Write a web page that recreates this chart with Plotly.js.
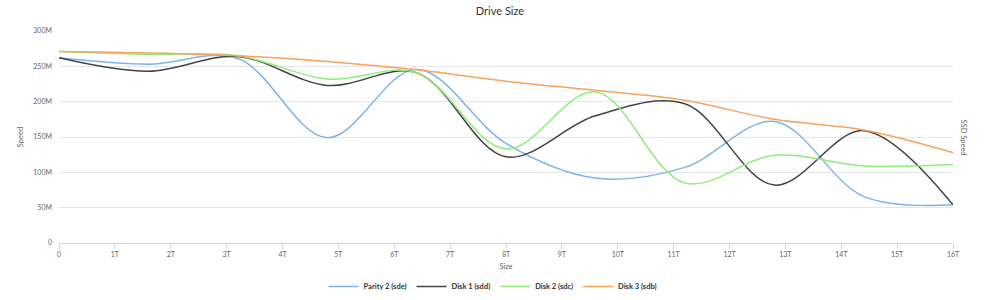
<!DOCTYPE html>
<html>
<head>
<meta charset="utf-8">
<script src="https://cdn.plot.ly/plotly-3.0.1.min.js"></script>
<style>html,body{margin:0;padding:0;background:#fff;}#chart{width:1000px;height:300px;}</style>
</head>
<body>
<div id="chart"></div>
<script>
// Drive position in T (terabytes)
const sizeT = [0, 1.6, 3.2, 4.8, 6.4, 8.0, 9.6, 11.2, 12.8, 14.4, 16];
// Speeds in MB/s (M)
const parity2 = [262, 253, 261, 149, 246, 141, 92, 107, 172, 66, 54];
const disk1   = [262, 243, 264, 223, 241, 122, 180, 197, 82, 159, 54];
const disk2   = [271, 267, 265, 232, 241, 133, 214, 85, 124, 109, 111];
const disk3   = [271, 269, 265, 257, 245, 229, 216, 202, 175, 160, 128];

const seriesNames = ["Parity 2 (sde)", "Disk 1 (sdd)", "Disk 2 (sdc)", "Disk 3 (sdb)"];
const seriesValues = [parity2, disk1, disk2, disk3];
const seriesColors = ["#7cb5ec", "#434348", "#90ed7d", "#f7a35c"];

const xTickVals = [0,1,2,3,4,5,6,7,8,9,10,11,12,13,14,15,16];
const xTickText = ["0","1T","2T","3T","4T","5T","6T","7T","8T","9T","10T","11T","12T","13T","14T","15T","16T"];
const yTickVals = [0, 50, 100, 150, 200, 250, 300];
const yTickText = ["0", "50M", "100M", "150M", "200M", "250M", "300M"];

const FONT = "Lato, 'Open Sans', sans-serif";

const traces = seriesNames.map((name, i) => ({
  type: "scatter",
  mode: "lines",
  name: name,
  x: sizeT,
  y: seriesValues[i],
  line: {color: seriesColors[i], width: 1.5, shape: "spline", smoothing: 1},
  hoverinfo: "x+y+name"
}));

const layout = {
  width: 1000, height: 300,
  margin: {l: 59, r: 47, t: 31, b: 57, autoexpand: false},
  paper_bgcolor: "#ffffff",
  plot_bgcolor: "#ffffff",
  font: {family: FONT, color: "#666666", size: 7},
  title: {text: "Drive Size", x: 0.5, xref: "container", y: 0.962, yref: "container", yanchor: "middle",
          font: {family: FONT, size: 11, color: "#333333"}},
  xaxis: {
    range: [0, 16],
    tickvals: xTickVals, ticktext: xTickText,
    showgrid: false, zeroline: false,
    showline: true, linecolor: "#ccd6eb", linewidth: 1,
    ticks: "outside", ticklen: 5, tickcolor: "#ccd6eb", tickwidth: 1,
    tickfont: {family: FONT, size: 7, color: "#666666"},
    title: {text: "Size", standoff: 6, font: {family: FONT, size: 7.5, color: "#666666"}},
    automargin: false,
    fixedrange: true
  },
  yaxis: {
    range: [0, 300],
    tickvals: yTickVals, ticktext: yTickText,
    showgrid: true, gridcolor: "#e6e6e6", gridwidth: 1,
    zeroline: false, showline: false, ticks: "",
    ticklabelstandoff: 6,
    tickfont: {family: FONT, size: 7, color: "#666666"},
    title: {text: "Speed", standoff: 8, font: {family: FONT, size: 7.5, color: "#666666"}},
    automargin: false,
    fixedrange: true
  },
  showlegend: true,
  legend: {
    orientation: "h",
    x: 0.485, xanchor: "center",
    y: -0.205, yanchor: "middle",
    font: {family: FONT, size: 7.5, color: "#333333", weight: "bold"},
    itemwidth: 30,
    bgcolor: "rgba(0,0,0,0)"
  },
  annotations: [{
    text: "SSD Speed", xref: "paper", yref: "paper", x: 1.0, y: 0.5,
    xanchor: "left", yanchor: "middle", xshift: 4, textangle: 90, showarrow: false,
    font: {family: FONT, size: 7.5, color: "#666666"}
  }]
};

Plotly.newPlot("chart", traces, layout, {displayModeBar: false, responsive: false});
</script>
</body>
</html>
